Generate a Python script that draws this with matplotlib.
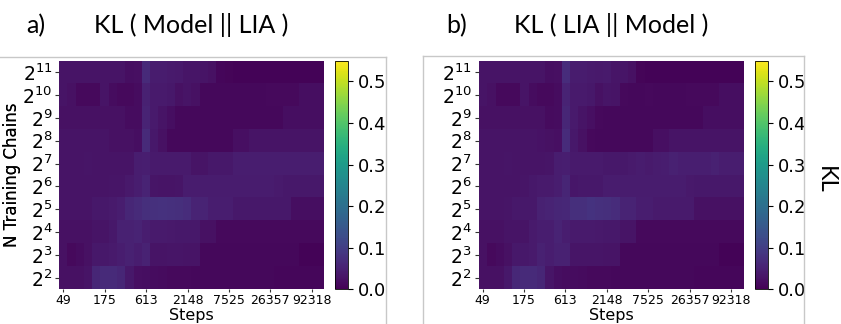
import matplotlib
matplotlib.use("Agg")
import matplotlib.pyplot as plt
import numpy as np
from matplotlib.lines import Line2D

# Training steps (log-spaced checkpoints), one per heatmap column
steps = [49, 63, 81, 104, 134, 175, 225, 289, 371, 477,
         613, 788, 1012, 1301, 1672, 2148, 2761, 3548, 4559, 5858,
         7525, 9671, 12428, 15970, 20522, 26357, 33870, 43524, 55930, 71872,
         92318, 118633]

# Number of training chains: 2^2 ... 2^11 (bottom to top)
chain_exponents = [2, 3, 4, 5, 6, 7, 8, 9, 10, 11]

# KL(Model || LIA), rows ordered from 2^2 (bottom) to 2^11 (top)
kl_model_lia = [
    # 2^2
    [0.025, 0.025, 0.025, 0.030, 0.060, 0.065, 0.065, 0.060, 0.035, 0.022,
     0.020, 0.018, 0.016, 0.015, 0.015, 0.013, 0.012, 0.012, 0.012, 0.012,
     0.012, 0.012, 0.012, 0.012, 0.011, 0.011, 0.010, 0.010, 0.010, 0.010,
     0.010, 0.010],
    # 2^3
    [0.025, 0.015, 0.018, 0.025, 0.035, 0.035, 0.040, 0.045, 0.050, 0.045,
     0.052, 0.030, 0.030, 0.032, 0.032, 0.030, 0.028, 0.012, 0.012, 0.012,
     0.012, 0.012, 0.012, 0.012, 0.012, 0.012, 0.012, 0.012, 0.012, 0.006,
     0.006, 0.006],
    # 2^4
    [0.025, 0.025, 0.025, 0.025, 0.028, 0.030, 0.035, 0.050, 0.050, 0.055,
     0.045, 0.040, 0.040, 0.038, 0.035, 0.035, 0.035, 0.025, 0.025, 0.015,
     0.015, 0.015, 0.015, 0.015, 0.015, 0.015, 0.015, 0.015, 0.015, 0.015,
     0.015, 0.015],
    # 2^5
    [0.030, 0.030, 0.030, 0.030, 0.035, 0.035, 0.040, 0.045, 0.060, 0.065,
     0.075, 0.077, 0.078, 0.077, 0.075, 0.070, 0.055, 0.055, 0.045, 0.045,
     0.045, 0.035, 0.035, 0.035, 0.035, 0.035, 0.035, 0.035, 0.020, 0.020,
     0.020, 0.020],
    # 2^6
    [0.030, 0.028, 0.030, 0.030, 0.028, 0.030, 0.032, 0.032, 0.038, 0.045,
     0.055, 0.032, 0.030, 0.030, 0.032, 0.042, 0.042, 0.042, 0.042, 0.042,
     0.042, 0.042, 0.042, 0.042, 0.042, 0.042, 0.040, 0.035, 0.035, 0.035,
     0.035, 0.035],
    # 2^7
    [0.028, 0.028, 0.030, 0.032, 0.030, 0.028, 0.028, 0.028, 0.030, 0.045,
     0.047, 0.040, 0.040, 0.040, 0.040, 0.040, 0.030, 0.030, 0.035, 0.035,
     0.035, 0.045, 0.045, 0.045, 0.045, 0.045, 0.045, 0.045, 0.045, 0.045,
     0.045, 0.045],
    # 2^8
    [0.030, 0.030, 0.030, 0.030, 0.030, 0.030, 0.025, 0.025, 0.025, 0.020,
     0.065, 0.035, 0.025, 0.012, 0.012, 0.012, 0.012, 0.012, 0.012, 0.012,
     0.012, 0.022, 0.022, 0.030, 0.030, 0.030, 0.030, 0.030, 0.030, 0.030,
     0.030, 0.030],
    # 2^9
    [0.025, 0.025, 0.025, 0.025, 0.025, 0.025, 0.025, 0.025, 0.018, 0.018,
     0.055, 0.040, 0.030, 0.020, 0.012, 0.012, 0.012, 0.012, 0.012, 0.012,
     0.012, 0.012, 0.012, 0.012, 0.012, 0.012, 0.012, 0.020, 0.020, 0.020,
     0.020, 0.020],
    # 2^10
    [0.030, 0.025, 0.015, 0.015, 0.015, 0.028, 0.018, 0.015, 0.015, 0.018,
     0.050, 0.040, 0.040, 0.035, 0.025, 0.030, 0.025, 0.012, 0.012, 0.012,
     0.012, 0.012, 0.012, 0.012, 0.012, 0.015, 0.015, 0.015, 0.015, 0.020,
     0.020, 0.020],
    # 2^11
    [0.030, 0.030, 0.030, 0.030, 0.030, 0.030, 0.030, 0.028, 0.020, 0.022,
     0.065, 0.042, 0.042, 0.040, 0.038, 0.032, 0.032, 0.030, 0.025, 0.010,
     0.008, 0.006, 0.006, 0.006, 0.006, 0.006, 0.006, 0.006, 0.006, 0.006,
     0.006, 0.006],
]

# KL(LIA || Model), same layout
kl_lia_model = [
    # 2^2
    [0.025, 0.025, 0.025, 0.035, 0.062, 0.065, 0.065, 0.060, 0.032, 0.020,
     0.018, 0.018, 0.016, 0.015, 0.015, 0.013, 0.012, 0.012, 0.012, 0.012,
     0.012, 0.012, 0.012, 0.012, 0.011, 0.011, 0.010, 0.010, 0.010, 0.010,
     0.010, 0.010],
    # 2^3
    [0.025, 0.015, 0.018, 0.025, 0.035, 0.035, 0.040, 0.050, 0.045, 0.050,
     0.050, 0.032, 0.032, 0.032, 0.032, 0.030, 0.028, 0.012, 0.012, 0.012,
     0.012, 0.012, 0.012, 0.012, 0.012, 0.012, 0.012, 0.012, 0.012, 0.006,
     0.006, 0.006],
    # 2^4
    [0.025, 0.025, 0.025, 0.028, 0.028, 0.028, 0.040, 0.045, 0.045, 0.055,
     0.045, 0.040, 0.040, 0.040, 0.038, 0.035, 0.035, 0.028, 0.028, 0.015,
     0.015, 0.015, 0.015, 0.015, 0.015, 0.015, 0.015, 0.015, 0.015, 0.015,
     0.015, 0.015],
    # 2^5
    [0.030, 0.030, 0.030, 0.032, 0.035, 0.035, 0.035, 0.050, 0.055, 0.060,
     0.062, 0.075, 0.075, 0.080, 0.076, 0.075, 0.070, 0.055, 0.055, 0.045,
     0.045, 0.040, 0.040, 0.040, 0.040, 0.040, 0.025, 0.025, 0.025, 0.025,
     0.025, 0.025],
    # 2^6
    [0.030, 0.030, 0.030, 0.030, 0.030, 0.032, 0.035, 0.040, 0.040, 0.045,
     0.058, 0.033, 0.035, 0.035, 0.035, 0.042, 0.042, 0.042, 0.042, 0.042,
     0.042, 0.042, 0.042, 0.042, 0.042, 0.037, 0.035, 0.035, 0.035, 0.035,
     0.035, 0.035],
    # 2^7
    [0.028, 0.028, 0.030, 0.032, 0.030, 0.028, 0.028, 0.028, 0.032, 0.045,
     0.047, 0.040, 0.040, 0.040, 0.040, 0.036, 0.035, 0.035, 0.040, 0.042,
     0.040, 0.042, 0.045, 0.050, 0.046, 0.046, 0.046, 0.046, 0.050, 0.045,
     0.045, 0.045],
    # 2^8
    [0.030, 0.030, 0.030, 0.030, 0.030, 0.030, 0.028, 0.026, 0.025, 0.022,
     0.068, 0.035, 0.025, 0.015, 0.012, 0.012, 0.012, 0.012, 0.012, 0.012,
     0.012, 0.022, 0.022, 0.030, 0.030, 0.030, 0.030, 0.030, 0.030, 0.030,
     0.030, 0.030],
    # 2^9
    [0.025, 0.025, 0.025, 0.025, 0.025, 0.025, 0.025, 0.025, 0.016, 0.018,
     0.060, 0.040, 0.030, 0.022, 0.014, 0.012, 0.012, 0.012, 0.012, 0.012,
     0.012, 0.012, 0.012, 0.012, 0.012, 0.012, 0.012, 0.020, 0.020, 0.020,
     0.020, 0.020],
    # 2^10
    [0.030, 0.025, 0.015, 0.015, 0.015, 0.028, 0.018, 0.015, 0.015, 0.018,
     0.055, 0.040, 0.040, 0.035, 0.025, 0.032, 0.030, 0.015, 0.012, 0.012,
     0.015, 0.012, 0.012, 0.012, 0.012, 0.015, 0.015, 0.015, 0.015, 0.020,
     0.020, 0.020],
    # 2^11
    [0.030, 0.030, 0.030, 0.030, 0.030, 0.030, 0.030, 0.028, 0.020, 0.022,
     0.070, 0.042, 0.042, 0.040, 0.038, 0.040, 0.032, 0.032, 0.025, 0.008,
     0.006, 0.006, 0.006, 0.006, 0.006, 0.006, 0.006, 0.006, 0.006, 0.006,
     0.006, 0.006],
]

panel_letters = ["a)", "b)"]
panel_titles = ["KL ( Model || LIA )", "KL ( LIA || Model )"]
cbar_ticks = [0.0, 0.1, 0.2, 0.3, 0.4, 0.5]
vmax = 0.55

W, H = 841, 324
fig = plt.figure(figsize=(W / 100, H / 100), dpi=100)


def px_rect(x0, y0, x1, y1):
    """Axes rectangle from pixel box (top-left origin)."""
    return [x0 / W, 1 - y1 / H, (x1 - x0) / W, (y1 - y0) / H]


def px_line(xs, ys, **kw):
    fig.add_artist(Line2D([x / W for x in xs], [1 - y / H for y in ys],
                          transform=fig.transFigure, **kw))


title_font = ["Lato", "DejaVu Sans"]
heat_boxes = [(59.3, 60.7, 324.0, 289.3), (478.5, 60.7, 743.3, 289.3)]
cbar_boxes = [(335.0, 60.7, 347.7, 289.3), (755.0, 60.7, 767.7, 289.3)]
letter_x = [26, 446]

for i, data in enumerate([kl_model_lia, kl_lia_model]):
    x0, y0, x1, y1 = heat_boxes[i]
    ax = fig.add_axes(px_rect(x0, y0, x1, y1))
    cax = fig.add_axes(px_rect(*cbar_boxes[i]))
    im = ax.imshow(np.array(data), origin="lower", aspect="auto",
                   cmap="viridis", vmin=0.0, vmax=vmax,
                   interpolation="nearest")
    for s in ax.spines.values():
        s.set_visible(False)
    xt = list(range(0, len(steps), 5))
    ax.set_xticks(xt)
    ax.set_xticklabels([str(steps[j]) for j in xt], fontsize=9)
    ax.set_yticks(range(len(chain_exponents)))
    ax.set_yticklabels([r"$2^{%d}$" % e for e in chain_exponents], fontsize=13.5)
    ax.tick_params(axis="y", colors="#333333", labelcolor="black",
                   length=3, pad=2)
    ax.tick_params(axis="x", colors="#333333", labelcolor="black",
                   length=2.5, pad=1)
    ax.set_xlabel("Steps", fontsize=11.5)
    ax.xaxis.set_label_coords(0.5, -(307.8 - y1) / (y1 - y0))
    ax.xaxis.label.set_va("top")
    ax.set_ylabel("N Training Chains", fontsize=12)
    ax.yaxis.set_label_coords(-(x0 - 21) / (x1 - x0), 0.5)

    cb = fig.colorbar(im, cax=cax, ticks=cbar_ticks)
    cb.ax.tick_params(labelsize=13, length=3.5)
    cb.outline.set_linewidth(0.6)

    cx = (x0 + x1) / 2
    fig.text(letter_x[i] / W, 1 - 33 / H, panel_letters[i], fontsize=18,
             family=title_font, ha="left", va="baseline")
    fig.text(cx / W, 1 - 33 / H, panel_titles[i], fontsize=18,
             family=title_font, ha="center", va="baseline")

fig.text(825 / W, 1 - 180 / H, "KL", fontsize=17, family=title_font,
         rotation=270, ha="center", va="center")

# light frames around the two panels
frame_kw = dict(color="#c8c8c8", lw=1.0)
px_line([0, 385.5], [57, 57], **frame_kw)
px_line([385.5, 385.5], [57, 324], **frame_kw)
px_line([422.5, 803.5], [56, 56], **frame_kw)
px_line([422.5, 422.5], [56, 324], **frame_kw)
px_line([803.5, 803.5], [56, 324], **frame_kw)

fig.savefig("out.png", dpi=100)
